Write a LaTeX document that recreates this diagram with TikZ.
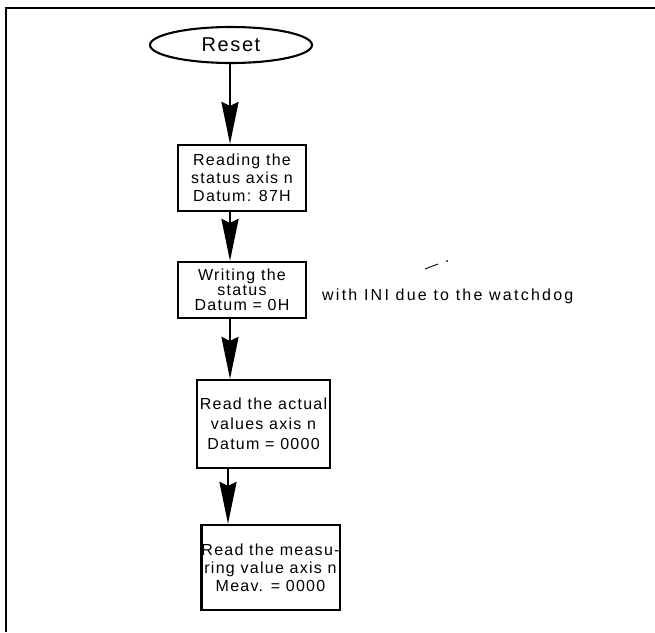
\documentclass[tikz,border=0pt]{standalone}
\usepackage{fontspec}
\setmainfont{Liberation Sans}[LetterSpace=8]
\newfontfamily\widefont{Liberation Sans}[LetterSpace=14]
\usetikzlibrary{arrows.meta,shapes.geometric}
\begin{document}
\begin{tikzpicture}[x=1pt,y=-1pt,
  stepbox/.style={draw,line width=2.1pt,rectangle,inner sep=0pt,
    align=center,font=\fontsize{16}{18}\selectfont},
  startnode/.style={draw,line width=2.1pt,ellipse,inner sep=0pt,
    font=\fontsize{20}{22}\selectfont},
  flow/.style={line width=2.6pt,-{Stealth[length=42pt,width=17pt,inset=4pt]}},
  note/.style={font=\widefont\fontsize{16}{18}\selectfont,anchor=west,inner sep=0pt}]
  \useasboundingbox (0,0) rectangle (655,632);
  % page frame (top and left edges)
  \draw[line width=2.4pt] (655,8) -- (6,8) -- (6,632);

  \node[startnode,minimum width=162pt,minimum height=36pt] (reset) at (231,45) {Reset};
  \node[stepbox,minimum width=128pt,minimum height=66pt] (b1) at (242,178)
    {Reading the\\status axis n\\Datum: 87H};
  \node[stepbox,minimum width=128pt,minimum height=56pt,
    font=\fontsize{16}{15}\selectfont] (b2) at (242,290)
    {Writing the\\status\\Datum = 0H};
  \node[stepbox,minimum width=133pt,minimum height=88pt,
    font=\fontsize{16}{20}\selectfont] (b3) at (263.5,424)
    {Read the actual\\values axis n\\Datum = 0000};
  \node[stepbox,minimum width=129pt,minimum height=85pt] (b4) at (270.5,567.5)
    {Read the measu-\\ring value axis n\\Meav. = 0000};

  \node[note] (ini) at (322,296) {with INI due to the watchdog};

  % arrow column
  \coordinate (col) at (230,0);
  \coordinate (col2) at (228,0);
  \draw[flow] (col |- reset.south) -- (col |- b1.north);
  \draw[flow] (col |- b1.south) -- (col |- b2.north);
  \draw[flow] (col |- b2.south) -- (col |- b3.north);
  \draw[flow] (col2 |- b3.south) -- (col2 |- b4.north);

  % small stray mark
  \coordinate (m1) at (425,269);
  \coordinate (m2) at (438,264);
  \draw[line width=0.9pt] (m1) -- (m2);
  \fill (447,261) circle (1pt);
\end{tikzpicture}
\end{document}
